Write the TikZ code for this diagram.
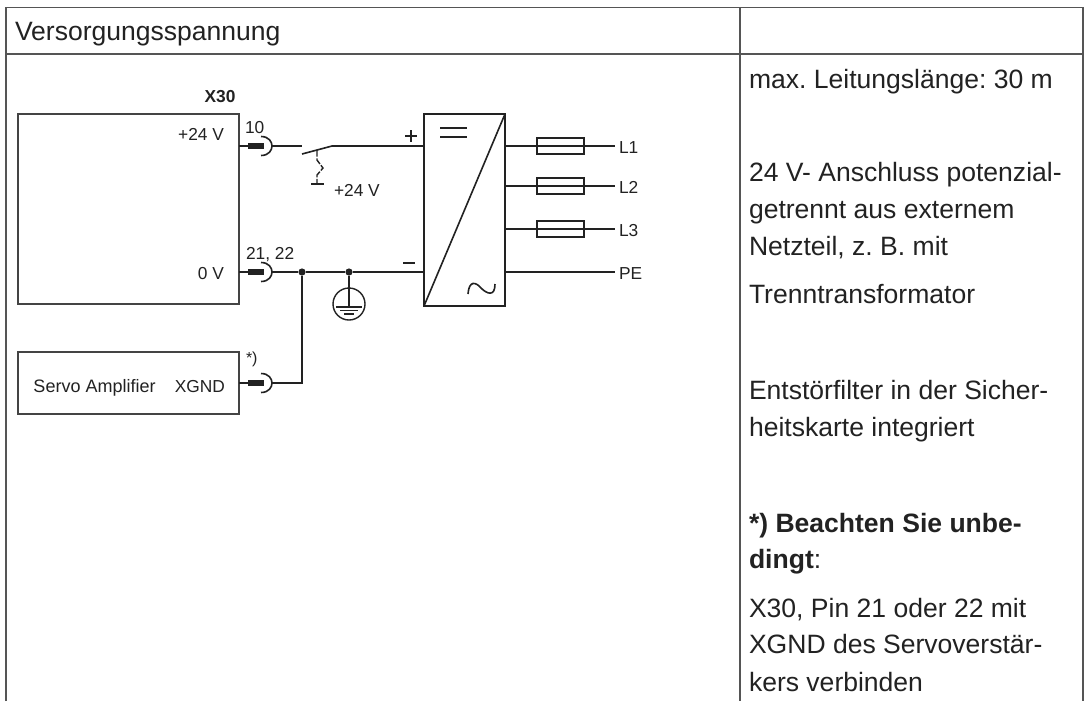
\documentclass[tikz,border=0pt]{standalone}
\usepackage{fontspec}
\setmainfont{Liberation Sans}
\frenchspacing
\usetikzlibrary{calc}
\definecolor{ink}{HTML}{222222}
\definecolor{rule}{HTML}{555555}
\tikzset{
  tablerule/.style={draw=rule,line width=1.05pt},
  boxline/.style={draw=rule!80!black,line width=0.8pt},
  wire/.style={draw=ink,line width=1.05pt},
  heavy/.style={draw=ink,line width=1.2pt},
  bodytext/.style={anchor=base west,inner sep=0pt,outer sep=0pt,text=ink,font=\fontsize{19.9}{24}\selectfont\frenchspacing},
  small/.style={inner sep=0pt,outer sep=0pt,text=ink,font=\fontsize{13}{15}\selectfont\frenchspacing},
  smallw/.style={small,anchor=base west},
  smalle/.style={small,anchor=base east},
  dotn/.style={circle,fill=ink,inner sep=0pt,minimum size=5.4pt}
}
% a pin: thin stub from the box, heavy plug, half-round socket
\newcommand{\pinat}[1]{%
  \fill[ink] ($(#1)+(9,-3)$) rectangle ($(#1)+(25,3)$);
  \draw[wire] (#1) -- ++(9,0);
  \draw[heavy] ($(#1)+(22,-9.5)$) .. controls ($(#1)+(30,-9.5)$) and ($(#1)+(33,-4)$) .. ($(#1)+(33,0)$) .. controls ($(#1)+(33,4)$) and ($(#1)+(30,9.5)$) .. ($(#1)+(22,9.5)$);
}
\begin{document}
\begin{tikzpicture}[x=0.75pt,y=-0.75pt]
\useasboundingbox (0,0) rectangle (1088,701);
\fill[white] (0,0) rectangle (1088,701);
% table
\coordinate (tl) at (6,7.5); \coordinate (tr) at (1083,7.5);
\coordinate (bl) at (6,701); \coordinate (br) at (1083,701);
\coordinate (hl) at (6,54); \coordinate (hr) at (1083,54);
\coordinate (ct) at (740,7.5); \coordinate (cb) at (740,701);
\draw[tablerule] (bl) -- (tl) -- (tr) -- (br);
\draw[tablerule,line width=0.8pt] (hl) -- (hr);
\draw[tablerule] (ct) -- (cb);
\node[bodytext] (title) at (15,40) {Versorgungsspannung};
% right column
\node[bodytext] (r1) at (749,88) {max. Leitungslänge: 30 m};
\node[bodytext] (r2) at (749,181) {24 V- Anschluss potenzial-};
\node[bodytext] (r3) at (749,218) {getrennt aus externem};
\node[bodytext] (r4) at (749,255) {Netzteil, z. B. mit};
\node[bodytext] (r5) at (749,303) {Trenntransformator};
\node[bodytext] (r6) at (749,399) {Entstörfilter in der Sicher-};
\node[bodytext] (r7) at (749,436) {heitskarte integriert};
\node[bodytext] (r8) at (749,532) {\textbf{*) Beachten Sie unbe-}};
\node[bodytext] (r9) at (749,568) {\textbf{dingt}:};
\node[bodytext] (r10) at (749,617) {X30, Pin 21 oder 22 mit};
\node[bodytext] (r11) at (749,653) {XGND des Servoverstär-};
\node[bodytext] (r12) at (749,691) {kers verbinden};
% X30 box
\draw[boxline] (18,114) rectangle (239,304);
\node[small,anchor=base,font=\fontsize{13}{15}\selectfont\bfseries] (x30) at (220,102) {X30};
\node[smalle] (v24) at (224,140) {+24 V};
\node[smalle] (v0) at (224,279) {0 V};
\node[smallw] (p10) at (245,133) {10};
\node[smallw] (p21) at (246,259) {21, 22};
% Servo box
\draw[boxline] (18,352) rectangle (239,414);
\node[smallw,font=\fontsize{13.5}{15}\selectfont] (servo) at (33.5,392) {Servo Amplifier};
\node[smalle] (xgnd) at (225,392) {XGND};
\node[small,anchor=base west,font=\fontsize{12}{14}\selectfont] (star) at (246,363) {*)};
% pins
\coordinate (pa) at (239,146);
\coordinate (pb) at (239,272);
\coordinate (pc) at (239,383);
\pinat{pa}\pinat{pb}\pinat{pc}
\coordinate (sa) at (272,146);
\coordinate (sb) at (272,272);
\coordinate (sc) at (272,383);
% converter
\coordinate (c1) at (424,114); \coordinate (c2) at (505,114);
\coordinate (c3) at (505,306); \coordinate (c4) at (424,306);
\draw[heavy] (c1) -- (c2) -- (c3) -- (c4) -- cycle;
\draw[heavy] (c4) -- (c2);
\draw[heavy] (440,128) -- (467,128);
\draw[heavy] (440,137) -- (467,137);
\draw[heavy] (468,294) .. controls (469,280) and (476,282) .. (481,288) .. controls (487,294) and (495,297) .. (495,284);
\coordinate (ci1) at (424,146); \coordinate (ci2) at (424,272);
\draw[heavy] (405,136) -- (417,136) (411,130) -- (411,142);
\draw[heavy] (403,263) -- (415,263);
% switch
\coordinate (swa) at (302,146);
\coordinate (swb) at (332,146);
\draw[wire] (sa) -- (swa);
\draw[wire] (swb) -- (ci1);
\draw[heavy] (302,154) -- (swb);
\draw[wire,dash pattern=on 5pt off 1.2pt] (317,150) -- (317,160) -- (323,168) -- (317,175) -- (317,184);
\draw[wire] (311,184) -- (324,184);
\node[smallw] (v24b) at (334,196) {+24 V};
% 0 V rail
\node[dotn] (j1) at (302,272) {};
\node[dotn] (j2) at (349,272) {};
\draw[wire] (sb) -- (j1);
\draw[wire] (j1) -- (j2);
\draw[wire] (j2) -- (ci2);
\draw[wire] (j1) |- (sc);
% earth
\coordinate (e1) at (349,307);
\draw[wire] (j2) -- (e1);
\draw[wire] (349,304) circle (16);
\draw[wire] (336,307) -- (362,307);
\draw[wire] (340,310.5) -- (358,310.5);
\draw[wire] (344,314) -- (354,314);
% outputs
\foreach \n/\yy in {1/146,2/186,3/229}{
  \coordinate (o\n) at (505,\yy);
  \coordinate (e\n) at (615,\yy);
  \draw[heavy] (537,\yy-8) rectangle (584,\yy+8);
  \draw[wire] (o\n) -- (e\n);
}
\coordinate (o4) at (505,272); \coordinate (e4) at (615,272);
\draw[wire] (o4) -- (e4);
\node[smallw] (l1) at (619,153) {L1};
\node[smallw] (l2) at (619,193) {L2};
\node[smallw] (l3) at (619,236) {L3};
\node[smallw] (pe) at (619,279) {PE};
\end{tikzpicture}
\end{document}
